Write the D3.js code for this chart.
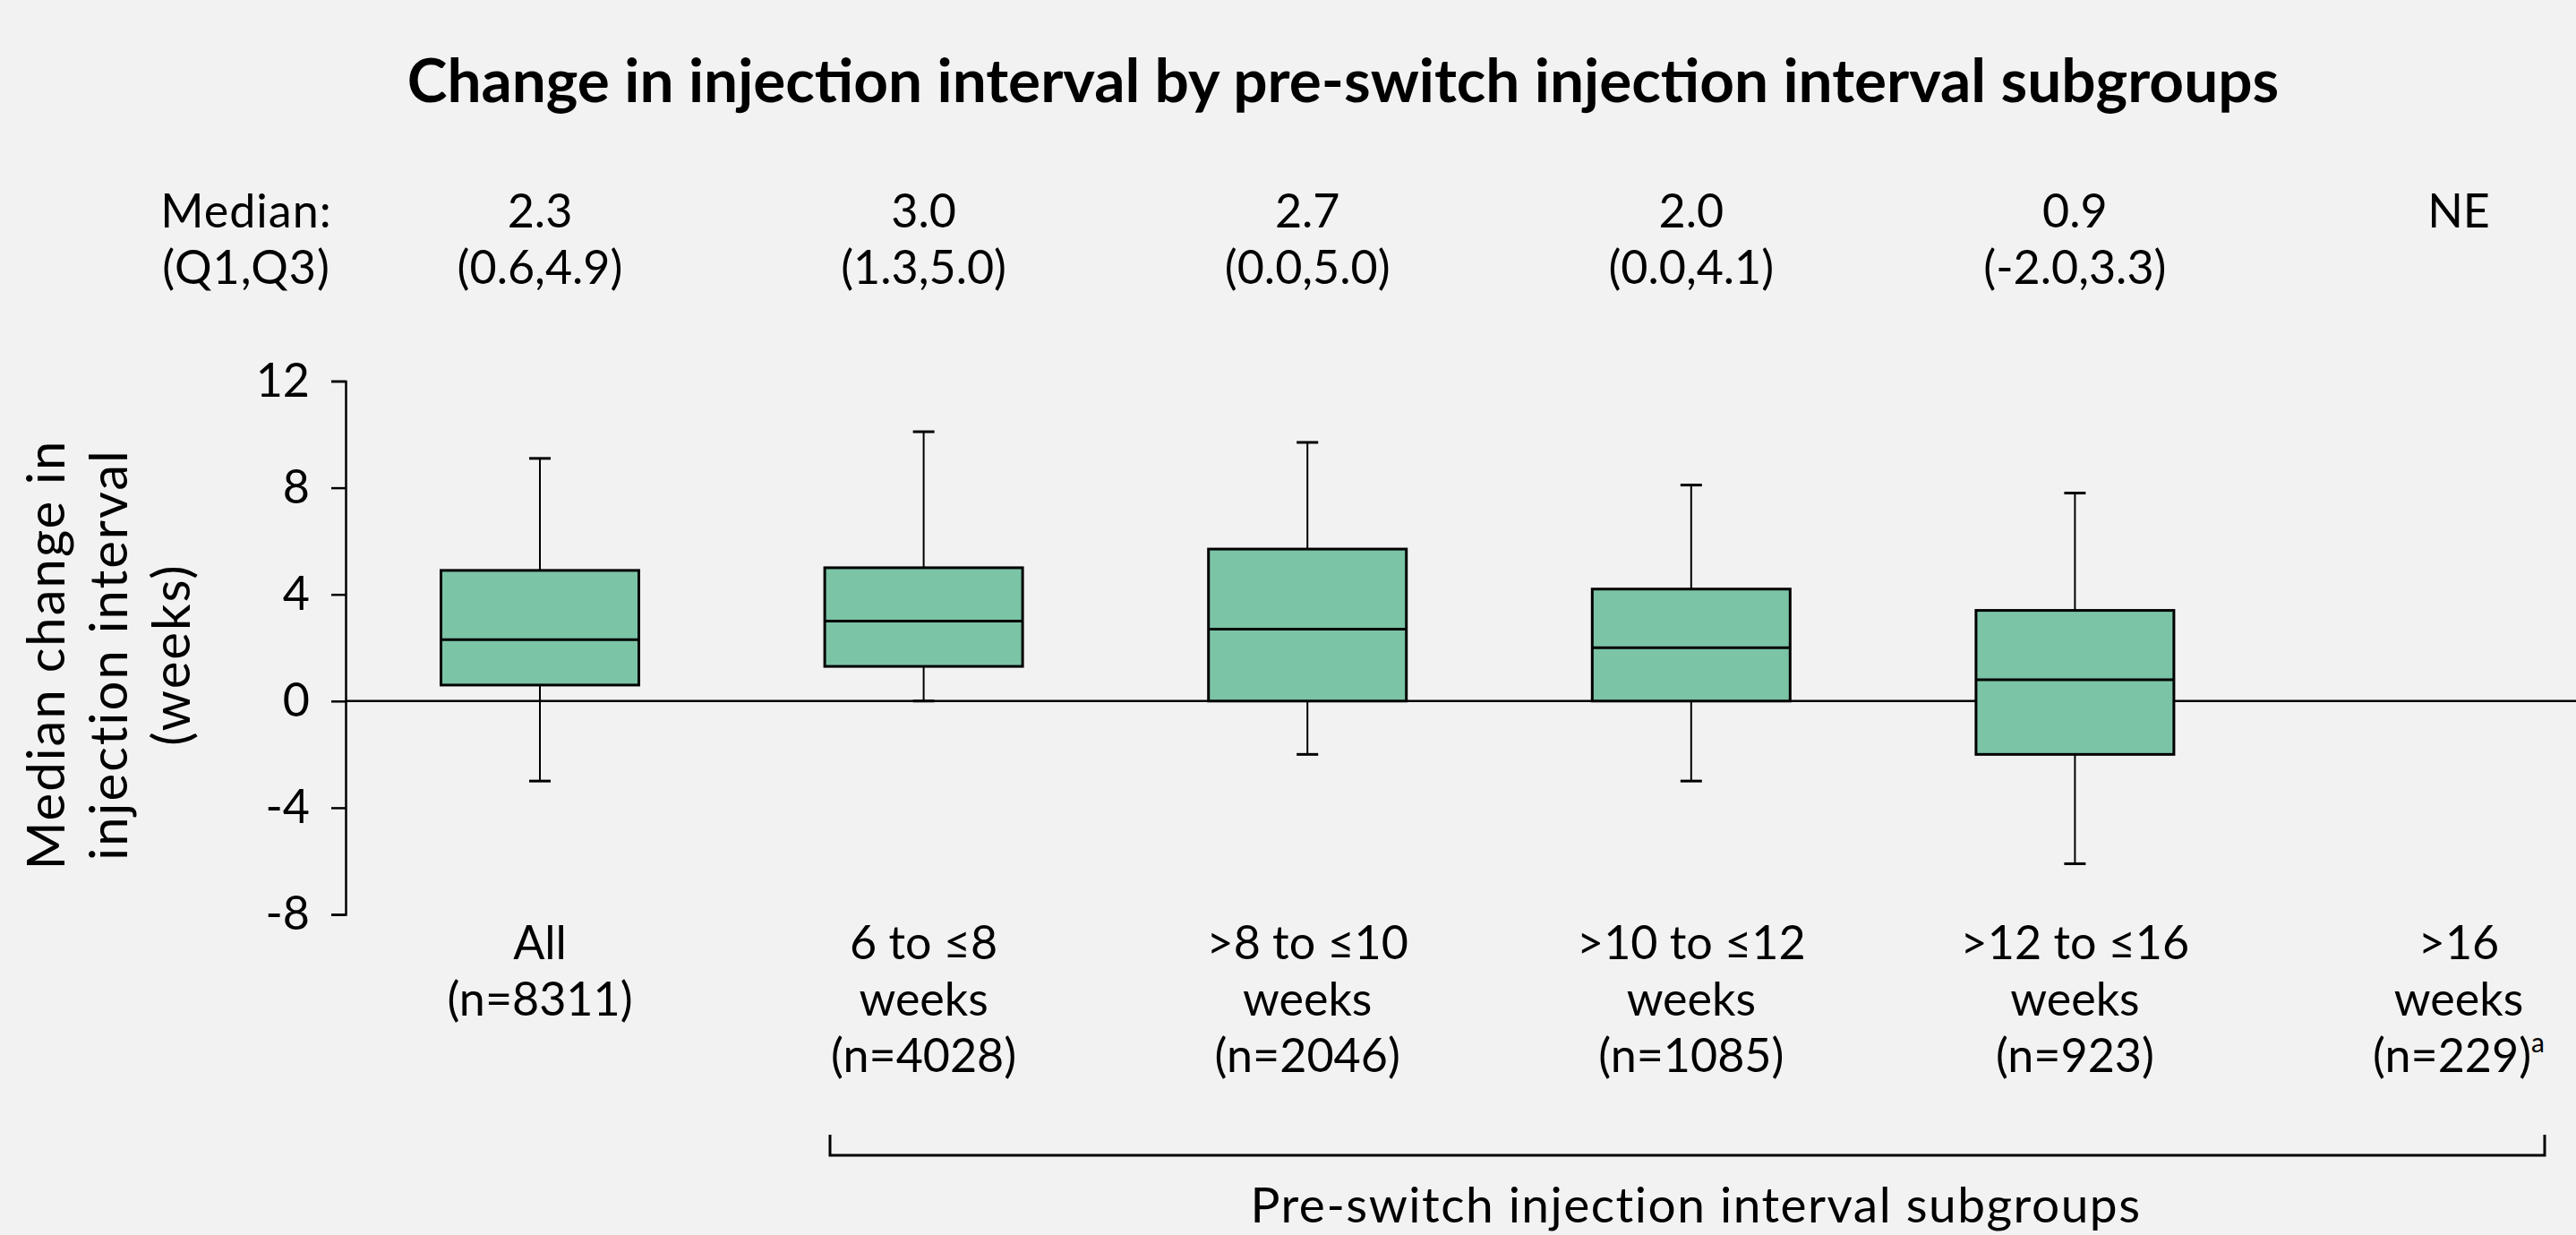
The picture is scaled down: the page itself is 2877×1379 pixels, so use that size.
<!DOCTYPE html>
<html>
<head>
<meta charset="utf-8">
<script src="https://cdn.jsdelivr.net/npm/d3@7"></script>
<style>
  html, body { margin: 0; padding: 0; background: #f1f2f1; }
  svg { display: block; }
  text { font-family: Lato, "Noto Sans", sans-serif; fill: #000; }
</style>
</head>
<body>
<svg id="chart" width="2877" height="1379"></svg>
<script>
// ---- data ----
const categories = ["All", "6 to ≤8", ">8 to ≤10", ">10 to ≤12", ">12 to ≤16", ">16"];
const catLine2 = ["(n=8311)", "weeks", "weeks", "weeks", "weeks", "weeks"];
const catLine3 = ["", "(n=4028)", "(n=2046)", "(n=1085)", "(n=923)", "(n=229)"];
const catSup = ["", "", "", "", "", "a"];
const medianLabels = ["2.3", "3.0", "2.7", "2.0", "0.9", "NE"];
const iqrLabels = ["(0.6,4.9)", "(1.3,5.0)", "(0.0,5.0)", "(0.0,4.1)", "(-2.0,3.3)", ""];
const whiskerLow = [-3.0, 0.0, -2.0, -3.0, -6.1, null];
const q1 = [0.6, 1.3, 0.0, 0.0, -2.0, null];
const median = [2.3, 3.0, 2.7, 2.0, 0.8, null];
const q3 = [4.9, 5.0, 5.7, 4.2, 3.4, null];
const whiskerHigh = [9.1, 10.1, 9.7, 8.1, 7.8, null];
const yTicks = [-8, -4, 0, 4, 8, 12];

// ---- layout ----
const W = 2877, H = 1379;
const svg = d3.select("#chart");
svg.append("rect").attr("width", W).attr("height", H).attr("fill", "#f1f2f1");

const x = d3.scalePoint().domain(categories).range([603, 2746]);
const y = d3.scaleLinear().domain([-8, 12]).range([1021, 425.5]);
const axisX = 386;
const boxW = 221, capW = 24;
const fill = "#7bc4a6";
const fs = 52;

// title
svg.append("text")
  .attr("x", 1500).attr("y", 114)
  .attr("text-anchor", "middle")
  .style("font-size", "67.5px").style("font-weight", "bold")
  .text("Change in injection interval by pre-switch injection interval subgroups");

// header labels
svg.append("text").attr("x", 275).attr("y", 254).attr("text-anchor", "middle")
  .style("font-size", fs + "px").style("letter-spacing", "1px").text("Median:");
svg.append("text").attr("x", 275).attr("y", 317).attr("text-anchor", "middle")
  .style("font-size", fs + "px").style("letter-spacing", "1px").text("(Q1,Q3)");

svg.selectAll("text.med").data(categories).enter().append("text")
  .attr("class", "med")
  .attr("x", d => x(d)).attr("y", 254).attr("text-anchor", "middle")
  .style("font-size", fs + "px")
  .text((d, i) => medianLabels[i]);
svg.selectAll("text.iqr").data(categories).enter().append("text")
  .attr("class", "iqr")
  .attr("x", d => x(d)).attr("y", 317).attr("text-anchor", "middle")
  .style("font-size", fs + "px")
  .text((d, i) => iqrLabels[i]);

// y axis
const yAxis = d3.axisLeft(y).tickValues(yTicks).tickSize(16).tickPadding(24).tickFormat(d3.format("d"));
const gy = svg.append("g").attr("transform", `translate(${axisX},0)`).call(yAxis);
gy.selectAll("path, line").attr("stroke", "#000").attr("stroke-width", 2.5);
gy.selectAll("text").style("font-size", fs + "px").style("font-family", "Lato, 'Noto Sans', sans-serif")
  .text(d => d < 0 ? "-" + Math.abs(d) : d);

// y title
const yTitle = svg.append("text")
  .attr("transform", "translate(0,731) rotate(-90)")
  .attr("text-anchor", "middle")
  .style("font-size", "58px").style("letter-spacing", "2px");
["Median change in", "injection interval", "(weeks)"].forEach((t, i) => {
  yTitle.append("tspan").attr("x", 0).attr("y", 72 + i * 70).text(t);
});

// zero line
svg.append("line")
  .attr("x1", axisX).attr("x2", W)
  .attr("y1", y(0)).attr("y2", y(0))
  .attr("stroke", "#000").attr("stroke-width", 2.5);

// boxes
const idx = d3.range(categories.length).filter(i => q1[i] !== null);
const g = svg.append("g");
const box = g.selectAll("g.box").data(idx).enter().append("g").attr("class", "box");
box.append("line")
  .attr("x1", i => x(categories[i])).attr("x2", i => x(categories[i]))
  .attr("y1", i => y(whiskerLow[i])).attr("y2", i => y(whiskerHigh[i]))
  .attr("stroke", "#000").attr("stroke-width", 2);
box.append("line")
  .attr("x1", i => x(categories[i]) - capW / 2).attr("x2", i => x(categories[i]) + capW / 2)
  .attr("y1", i => y(whiskerHigh[i])).attr("y2", i => y(whiskerHigh[i]))
  .attr("stroke", "#000").attr("stroke-width", 3);
box.append("line")
  .attr("x1", i => x(categories[i]) - capW / 2).attr("x2", i => x(categories[i]) + capW / 2)
  .attr("y1", i => y(whiskerLow[i])).attr("y2", i => y(whiskerLow[i]))
  .attr("stroke", "#000").attr("stroke-width", 3);
box.append("rect")
  .attr("x", i => x(categories[i]) - boxW / 2)
  .attr("width", boxW)
  .attr("y", i => y(q3[i]))
  .attr("height", i => y(q1[i]) - y(q3[i]))
  .attr("fill", fill).attr("stroke", "#000").attr("stroke-width", 3);
box.append("line")
  .attr("x1", i => x(categories[i]) - boxW / 2).attr("x2", i => x(categories[i]) + boxW / 2)
  .attr("y1", i => y(median[i])).attr("y2", i => y(median[i]))
  .attr("stroke", "#000").attr("stroke-width", 3);

// category labels
const cl = svg.selectAll("text.cat").data(categories).enter().append("text")
  .attr("class", "cat").attr("text-anchor", "middle").style("font-size", fs + "px");
cl.append("tspan").attr("x", d => x(d)).attr("y", 1071).text(d => d);
cl.append("tspan").attr("x", d => x(d)).attr("y", 1134).text((d, i) => catLine2[i]);
cl.append("tspan").attr("x", d => x(d)).attr("y", 1197).text((d, i) => catLine3[i]);
cl.filter((d, i) => catSup[i]).append("tspan")
  .attr("dy", -22).style("font-size", "30px").text((d, i) => catSup[categories.indexOf(d)]);

// bracket
svg.append("path")
  .attr("d", "M927,1267V1290H2842V1267")
  .attr("fill", "none").attr("stroke", "#000").attr("stroke-width", 3);
svg.append("text").attr("x", 1894).attr("y", 1365).attr("text-anchor", "middle")
  .style("font-size", "55px").style("letter-spacing", "1.5px").text("Pre-switch injection interval subgroups");
</script>
</body>
</html>
